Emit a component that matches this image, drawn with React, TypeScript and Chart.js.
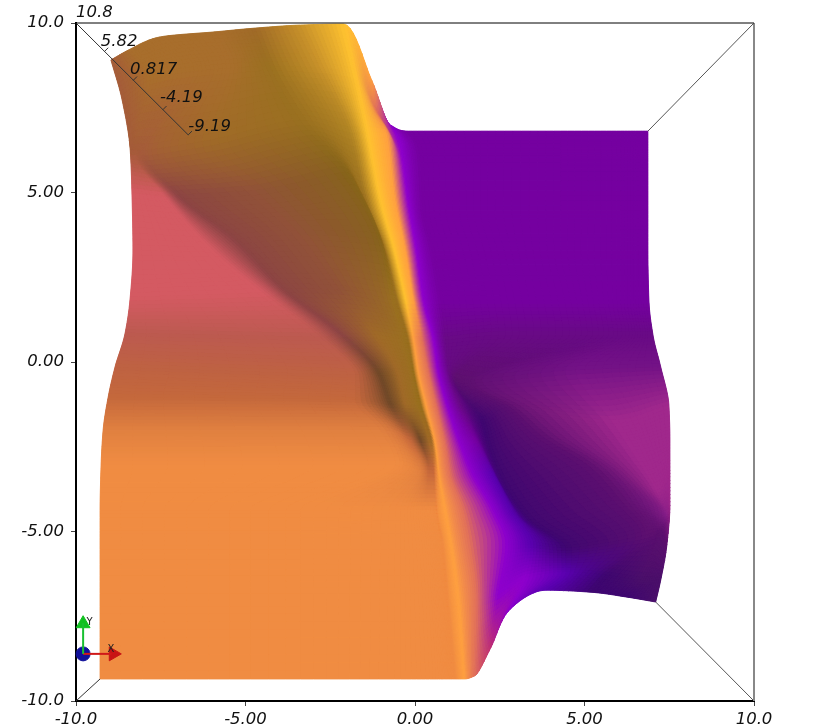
import { useEffect, useRef } from "react";
import { Chart, registerables } from "chart.js";

Chart.register(...registerables);

// ---------- data ----------
const xTickLabels = ["-10.0", "-5.00", "0.00", "5.00", "10.0"];
const yTickLabels = ["-10.0", "-5.00", "0.00", "5.00", "10.0"];
const zAxisLabels = ["10.8", "5.82", "0.817", "-4.19", "-9.19"];
const zAxisLabelX = [-10.0, -9.27, -8.41, -7.52, -6.69];
const zAxisLabelY = [10.31, 9.44, 8.63, 7.79, 6.94];

// surface mesh: rows run top to bottom, columns left to right and follow the ridges of the surface
const surfaceX = [
  [-8.97, -8.4, -7.52, -5.89, -4.71, -3.38, -2.11, -1.28, -0.72, -0.19, 1.93, 4.3, 6.07, 6.87],
  [-8.64, -7.81, -6.63, -5.45, -4.27, -2.79, -1.76, -1.14, -0.49, 0.07, 1.93, 4.3, 6.07, 6.87],
  [-8.4, -8.26, -7.96, -6.04, -3.38, -1.91, -1.4, -0.84, -0.37, 0.16, 1.93, 4.3, 6.07, 6.87],
  [-8.35, -7.37, -6.99, -4.71, -2.05, -1.46, -1.02, -0.58, -0.19, 0.22, 1.93, 4.3, 6.07, 6.87],
  [-8.32, -5.89, -5.3, -3.38, -1.02, -0.87, -0.61, -0.28, 0.04, 0.49, 2.23, 4.3, 6.07, 6.87],
  [-8.4, -4.5, -3.91, -2.2, -0.66, -0.52, -0.28, -0.04, 0.25, 0.75, 2.53, 4.59, 6.07, 6.9],
  [-8.55, -2.79, -2.2, -1.17, -0.31, -0.19, -0.04, 0.22, 0.55, 0.9, 2.67, 4.74, 6.22, 7.02],
  [-8.85, -1.76, -1.08, -0.52, -0.07, -0.01, 0.1, 0.4, 0.69, 0.99, 1.2, 1.64, 4.74, 7.25],
  [-9.05, -1.76, -0.72, -0.28, 0.1, 0.19, 0.31, 0.61, 0.93, 1.34, 1.99, 2.82, 5.78, 7.49],
  [-9.2, -1.02, -0.13, 0.16, 0.4, 0.49, 0.61, 0.9, 1.34, 1.79, 2.23, 3.71, 6.37, 7.52],
  [-9.26, -0.58, 0.16, 0.4, 0.55, 0.61, 0.72, 1.05, 1.7, 2.29, 2.76, 5.18, 7.1, 7.52],
  [-9.29, -3.38, -0.43, 0.31, 0.61, 0.66, 0.9, 1.43, 2.29, 2.82, 3.41, 6.07, 7.4, 7.52],
  [-9.29, -3.38, -0.43, 0.46, 0.75, 0.84, 1.08, 1.64, 2.67, 3.41, 4.45, 6.81, 7.25, 7.43],
  [-9.29, -3.38, -0.43, 0.61, 0.9, 0.99, 1.29, 1.82, 2.44, 3.26, 4.45, 5.63, 6.66, 7.25],
  [-9.29, -3.38, -0.43, 0.75, 1.05, 1.2, 1.46, 1.76, 2.23, 2.73, 3.86, 5.18, 6.22, 7.1],
];
const surfaceY = [
  [8.91, 9.23, 9.59, 9.74, 9.85, 9.94, 9.97, 8.32, 6.99, 6.81, 6.81, 6.81, 6.81, 6.81],
  [7.73, 8.32, 8.56, 8.67, 8.73, 8.67, 8.47, 7.43, 6.55, 6.4, 6.4, 6.4, 6.4, 6.4],
  [6.25, 6.25, 6.25, 6.55, 7.14, 6.76, 6.76, 6.76, 5.96, 5.81, 5.81, 5.81, 5.81, 5.81],
  [4.99, 4.87, 4.93, 5.07, 5.6, 4.78, 4.78, 4.78, 4.63, 4.48, 4.48, 4.48, 4.48, 4.48],
  [3.3, 3.24, 3.6, 3.75, 3.6, 3.3, 3.3, 3.3, 3.3, 3.3, 3.3, 3.3, 3.3, 3.3],
  [1.92, 2.06, 2.18, 2.12, 1.83, 1.83, 1.83, 1.83, 1.83, 1.83, 1.83, 1.83, 1.83, 1.83],
  [0.86, 0.74, 0.86, 0.8, 0.65, 0.65, 0.65, 0.65, 0.65, 0.65, 0.8, 0.8, 0.8, 0.8],
  [-0.15, -0.38, -0.3, -0.3, -0.38, -0.38, -0.3, -0.3, -0.3, -0.3, -0.47, -0.53, -0.24, -0.15],
  [-1.03, -1.12, -1.27, -1.27, -1.27, -1.27, -1.21, -1.21, -1.21, -1.27, -1.71, -1.33, -1.71, -1.27],
  [-2.01, -2.01, -2.3, -2.3, -2.3, -2.3, -2.45, -2.45, -2.45, -2.3, -2.6, -2.15, -2.6, -2.3],
  [-3.04, -3.04, -3.19, -3.19, -3.19, -3.19, -3.33, -3.33, -3.33, -3.33, -3.78, -3.1, -3.78, -3.19],
  [-4.37, -4.37, -4.37, -4.37, -4.37, -4.37, -4.37, -4.37, -4.37, -4.37, -4.66, -4.07, -4.51, -4.22],
  [-5.4, -5.4, -5.4, -5.4, -5.4, -5.4, -5.4, -5.4, -5.4, -5.4, -5.49, -5.1, -4.96, -5.4],
  [-7.02, -7.02, -7.02, -7.02, -7.02, -7.02, -7.02, -7.02, -6.87, -6.37, -6.2, -6.28, -6.43, -6.43],
  [-9.35, -9.35, -9.35, -9.35, -9.35, -9.35, -9.35, -9.26, -8.44, -7.38, -6.73, -6.79, -6.93, -7.08],
];
// index of the surface tone at each mesh node
const surfaceTone = [
  [26, 20, 20, 20, 7, 9, 10, 11, 13, 14, 14, 14, 14, 14],
  [26, 20, 20, 20, 8, 9, 10, 12, 13, 14, 14, 14, 14, 14],
  [26, 26, 26, 7, 8, 27, 10, 11, 13, 14, 14, 14, 14, 14],
  [4, 4, 5, 22, 21, 8, 10, 11, 13, 14, 14, 14, 14, 14],
  [4, 4, 5, 22, 21, 8, 10, 11, 13, 14, 14, 14, 14, 14],
  [4, 4, 5, 22, 8, 8, 10, 11, 13, 14, 14, 14, 14, 14],
  [3, 3, 5, 7, 8, 8, 11, 12, 13, 15, 15, 15, 15, 15],
  [28, 28, 6, 7, 8, 8, 11, 12, 13, 15, 17, 17, 29, 29],
  [2, 2, 6, 7, 8, 8, 11, 12, 13, 15, 18, 17, 16, 16],
  [1, 1, 2, 6, 7, 7, 11, 12, 13, 14, 18, 17, 16, 16],
  [0, 0, 1, 2, 2, 1, 11, 12, 13, 24, 18, 17, 16, 16],
  [0, 0, 0, 0, 0, 0, 11, 12, 13, 24, 18, 17, 19, 16],
  [0, 0, 0, 0, 0, 0, 11, 12, 13, 24, 18, 17, 17, 17],
  [0, 0, 0, 0, 0, 0, 11, 12, 13, 13, 24, 18, 25, 25],
  [0, 0, 0, 0, 0, 0, 11, 12, 23, 13, 24, 18, 18, 25],
];

const boxTopX = [-10, 10];
const boxTopY = [10, 10];
const boxRightX = [10, 10];
const boxRightY = [10, -10];
const cornerTopRightX = [10, 6.87];
const cornerTopRightY = [10, 6.81];
const cornerBottomRightX = [10, 7.1];
const cornerBottomRightY = [-10, -7.08];
const cornerBottomLeftX = [-10, -9.29];
const cornerBottomLeftY = [-10, -9.35];
const zAxisX = [-10, -6.69, null, -9.16, -9.05, null, -8.31, -8.2, null, -7.44, -7.33, null, -6.69, -6.58];
const zAxisY = [10, 6.7, null, 9.16, 9.27, null, 8.31, 8.42, null, 7.44, 7.55, null, 6.7, 6.81];

const triadOriginX = [-9.79];
const triadOriginY = [-8.61];
const triadYShaftX = [-9.79, -9.79];
const triadYShaftY = [-8.61, -7.7];
const triadXShaftX = [-9.79, -8.95];
const triadXShaftY = [-8.61, -8.61];
const triadYHeadX = [-9.79];
const triadYHeadY = [-7.72];
const triadXHeadX = [-8.9];
const triadXHeadY = [-8.61];
const triadLabels = ["Y", "X"];
const triadLabelX = [-9.6, -8.97];
const triadLabelY = [-7.67, -8.48];

// ---------- styles ----------
const TONES: [number, number, number][] = [
  [240, 140, 66], [224, 128, 64], [196, 104, 60], [188, 90, 80], [212, 90, 98], [140, 68, 68],
  [112, 72, 40], [160, 106, 40], [154, 112, 32], [200, 146, 42], [255, 194, 48], [255, 160, 64],
  [224, 112, 90], [142, 0, 204], [117, 0, 160], [104, 10, 133], [160, 40, 140], [94, 16, 112],
  [62, 6, 112], [134, 30, 136], [168, 110, 44], [134, 100, 26], [145, 82, 56], [192, 48, 112],
  [90, 0, 176], [74, 15, 106], [165, 92, 58], [176, 132, 36], [190, 98, 66], [116, 18, 134],
];
const FONT = "'DejaVu Sans'";
const STEPS = 10;

// smooth re-sampling of a node sequence, for drawing only
function refine(p: number[], s: number): number[] {
  const n = p.length;
  const d = p.slice(0, -1).map((v, i) => p[i + 1] - v);
  const m = p.map((_, i) => {
    if (i === 0) return d[0];
    if (i === n - 1) return d[n - 2];
    const a = d[i - 1], b = d[i];
    return a * b <= 0 ? 0 : (2 * a * b) / (a + b);
  });
  const out: number[] = [];
  for (let i = 0; i < n - 1; i++) {
    for (let k = 0; k < s; k++) {
      const t = k / s, t2 = t * t, t3 = t2 * t;
      out.push((2 * t3 - 3 * t2 + 1) * p[i] + (t3 - 2 * t2 + t) * m[i] + (-2 * t3 + 3 * t2) * p[i + 1] + (t3 - t2) * m[i + 1]);
    }
  }
  out.push(p[n - 1]);
  return out;
}
function refineGrid(g: number[][], s: number): number[][] {
  const rows = g.map((r) => refine(r, s));
  const cols = rows[0].map((_, c) => refine(rows.map((r) => r[c]), s));
  return cols[0].map((_, r) => cols.map((c) => c[r]));
}

const surfacePlugin = {
  id: "surface",
  beforeDatasetsDraw(chart: any) {
    const { ctx, scales } = chart;
    const gx = refineGrid(surfaceX, STEPS);
    const gy = refineGrid(surfaceY, STEPS);
    const px = (r: number, c: number) => scales.x.getPixelForValue(gx[r][c]);
    const py = (r: number, c: number) => scales.y.getPixelForValue(gy[r][c]);
    const tone = (u: number, v: number) => {
      const r0 = Math.min(Math.floor(v / STEPS), surfaceTone.length - 2);
      const c0 = Math.min(Math.floor(u / STEPS), surfaceTone[0].length - 2);
      const fv = v / STEPS - r0, fu = u / STEPS - c0;
      const a = TONES[surfaceTone[r0][c0]], b = TONES[surfaceTone[r0][c0 + 1]];
      const e = TONES[surfaceTone[r0 + 1][c0]], f = TONES[surfaceTone[r0 + 1][c0 + 1]];
      const mix = [0, 1, 2].map((i) => Math.round((a[i] * (1 - fu) + b[i] * fu) * (1 - fv) + (e[i] * (1 - fu) + f[i] * fu) * fv));
      return `rgb(${mix[0]},${mix[1]},${mix[2]})`;
    };
    ctx.save();
    ctx.lineWidth = 0.9;
    ctx.lineJoin = "round";
    // first pass closes the seams between cells, second pass lays clean fills over them
    for (let pass = 0; pass < 2; pass++) {
      for (let r = 0; r < gx.length - 1; r++) {
        for (let c = 0; c < gx[0].length - 1; c++) {
          const col = tone(c + 0.5, r + 0.5);
          ctx.fillStyle = col;
          ctx.strokeStyle = col;
          ctx.beginPath();
          ctx.moveTo(px(r, c), py(r, c));
          ctx.lineTo(px(r, c + 1), py(r, c + 1));
          ctx.lineTo(px(r + 1, c + 1), py(r + 1, c + 1));
          ctx.lineTo(px(r + 1, c), py(r + 1, c));
          ctx.closePath();
          ctx.fill();
          if (pass === 0) ctx.stroke();
        }
      }
    }
    ctx.restore();
  },
  afterDatasetsDraw(chart: any) {
    const { ctx, scales } = chart;
    ctx.save();
    ctx.fillStyle = "#111";
    ctx.textBaseline = "middle";
    ctx.textAlign = "left";
    ctx.font = `italic 16.5px ${FONT}`;
    zAxisLabels.forEach((t, i) => {
      ctx.fillText(t, scales.x.getPixelForValue(zAxisLabelX[i]), scales.y.getPixelForValue(zAxisLabelY[i]));
    });
    ctx.font = `10px ${FONT}`;
    ctx.fillStyle = "#222";
    ctx.textAlign = "center";
    triadLabels.forEach((t, i) => {
      ctx.fillText(t, scales.x.getPixelForValue(triadLabelX[i]), scales.y.getPixelForValue(triadLabelY[i]));
    });
    ctx.restore();
  },
};

const pts = (xs: (number | null)[], ys: (number | null)[]) =>
  xs.map((x, i) => ({ x: x as number, y: ys[i] as number }));
const line = (xs: (number | null)[], ys: (number | null)[], color: string, width: number) => ({
  type: "line" as const,
  data: pts(xs, ys),
  borderColor: color,
  borderWidth: width,
  pointRadius: 0,
  showLine: true,
  fill: false,
  tension: 0,
  spanGaps: false,
  clip: false as any,
});
const marker = (xs: number[], ys: number[], color: string, radius: number, style: string, rotation = 0) => ({
  type: "scatter" as const,
  data: pts(xs, ys),
  backgroundColor: color,
  borderColor: color,
  pointRadius: radius,
  pointStyle: style,
  pointRotation: rotation,
  clip: false as any,
});

export default function App() {
  const ref = useRef<HTMLCanvasElement>(null);
  useEffect(() => {
    if (!ref.current) return;
    const tick = {
      color: "#111",
      font: { family: FONT, style: "italic" as const, size: 16.5 },
      autoSkip: false,
      maxRotation: 0,
      stepSize: 5,
    };
    const grid = { drawOnChartArea: false, drawTicks: true, tickLength: 5, tickWidth: 1, tickColor: "#444" };
    const border = { display: true, color: "#000", width: 2 };
    const chart = new Chart(ref.current, {
      type: "scatter",
      data: {
        datasets: [
          {
            type: "scatter",
            data: surfaceX.flatMap((row, r) => row.map((x, c) => ({ x, y: surfaceY[r][c] }))),
            pointRadius: 0,
          },
          line(boxTopX, boxTopY, "#000", 1),
          line(boxRightX, boxRightY, "#888", 2),
          line(cornerTopRightX, cornerTopRightY, "#555", 1),
          line(cornerBottomRightX, cornerBottomRightY, "#555", 1),
          line(cornerBottomLeftX, cornerBottomLeftY, "#333", 1),
          line(zAxisX, zAxisY, "#333", 1),
          line(triadYShaftX, triadYShaftY, "#18c030", 2),
          line(triadXShaftX, triadXShaftY, "#d01818", 2),
          marker(triadYHeadX, triadYHeadY, "#10c020", 8, "triangle"),
          marker(triadXHeadX, triadXHeadY, "#c81414", 8, "triangle", 90),
          marker(triadOriginX, triadOriginY, "#10109a", 7, "circle"),
        ] as any,
      },
      plugins: [surfacePlugin],
      options: {
        animation: false,
        responsive: false,
        layout: { padding: { left: 0, right: 76, top: 23, bottom: 0 } },
        plugins: { legend: { display: false }, tooltip: { enabled: false } },
        scales: {
          x: {
            type: "linear",
            min: -10,
            max: 10,
            grid,
            border,
            ticks: { ...tick, padding: 4, callback: (_: any, i: number) => xTickLabels[i] },
            afterFit: (s: any) => { s.height = 26; },
          },
          y: {
            type: "linear",
            min: -10,
            max: 10,
            grid,
            border,
            ticks: { ...tick, padding: 7, callback: (_: any, i: number) => yTickLabels[i] },
            afterFit: (s: any) => { s.width = 76; },
          },
        },
      } as any,
    });
    return () => chart.destroy();
  }, []);
  return (
    <div style={{ position: "absolute", left: 0, top: 0, width: 830, height: 727, background: "#fff" }}>
      <canvas ref={ref} width={830} height={727} style={{ display: "block" }} />
    </div>
  );
}
